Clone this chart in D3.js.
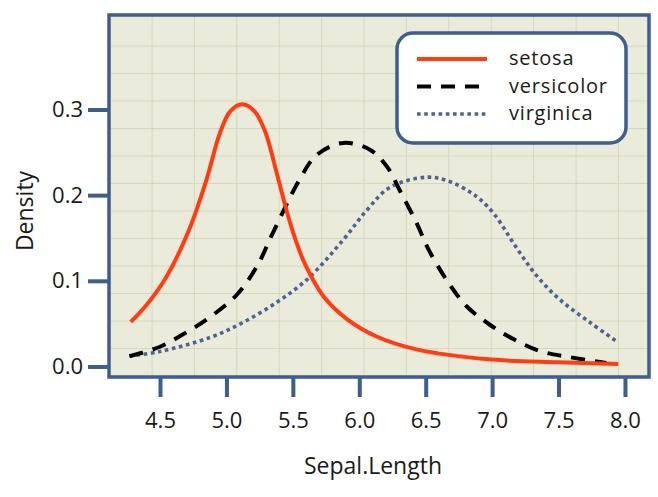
<!DOCTYPE html>
<html>
<head>
<meta charset="utf-8">
<script src="https://cdn.jsdelivr.net/npm/d3@7"></script>
<style>
    body { margin: 0; background: #fff; }
    text { font-family: "Open Sans", sans-serif; fill: #1a1a1a; }
</style>
</head>
<body>
<div id="chart"></div>
<script>
// Density of Sepal.Length per species
const species = ['setosa', 'versicolor', 'virginica'];

const setosaX = [4.28, 4.40, 4.55, 4.72, 4.85, 4.95, 5.03, 5.12, 5.21, 5.29, 5.38, 5.46, 5.52, 5.59, 5.73, 5.91, 6.13, 6.43, 7.0, 7.5, 7.95];
const setosaY = [0.052, 0.072, 0.105, 0.160, 0.218, 0.272, 0.298, 0.306, 0.298, 0.275, 0.225, 0.178, 0.148, 0.120, 0.082, 0.055, 0.035, 0.020, 0.008, 0.005, 0.003];

const versicolorX = [4.27, 4.5, 4.70, 4.88, 5.08, 5.23, 5.35, 5.55, 5.68, 5.88, 6.08, 6.21, 6.31, 6.43, 6.52, 6.67, 6.81, 6.98, 7.16, 7.36, 7.58, 7.86];
const versicolorY = [0.012, 0.023, 0.040, 0.058, 0.084, 0.117, 0.156, 0.218, 0.247, 0.261, 0.253, 0.233, 0.204, 0.168, 0.137, 0.098, 0.070, 0.049, 0.032, 0.018, 0.011, 0.004];

const virginicaX = [4.27, 4.5, 4.88, 5.12, 5.38, 5.61, 5.88, 6.06, 6.23, 6.51, 6.68, 6.83, 6.91, 7.02, 7.19, 7.34, 7.51, 7.74, 7.95];
const virginicaY = [0.012, 0.0175, 0.034, 0.051, 0.075, 0.102, 0.148, 0.183, 0.209, 0.221, 0.216, 0.204, 0.195, 0.177, 0.137, 0.105, 0.078, 0.051, 0.028];

const xTicks = [4.5, 5.0, 5.5, 6.0, 6.5, 7.0, 7.5, 8.0];
const yTicks = [0.0, 0.1, 0.2, 0.3];

const width = 658, height = 497;
const panel = { left: 109, top: 15, right: 649, bottom: 377 };
const axisColor = '#3d5e8e';

const svg = d3.select('#chart').append('svg')
    .attr('width', width)
    .attr('height', height);

// Scales
const xScale = d3.scaleLinear()
    .domain([4.116, 8.181])
    .range([panel.left, panel.right]);

const yScale = d3.scaleLinear()
    .domain([-0.0123, 0.4103])
    .range([panel.bottom, panel.top]);

// Panel background
svg.append('rect')
    .attr('x', panel.left)
    .attr('y', panel.top)
    .attr('width', panel.right - panel.left)
    .attr('height', panel.bottom - panel.top)
    .attr('fill', '#ebebdb');

// Graph-paper grid (decorative, not tied to the ticks)
const grid = svg.append('g').attr('stroke', '#d5d8bd').attr('stroke-width', 1);
d3.range(panel.left + 43, panel.right - 5, 42.4).forEach(gx => {
    grid.append('line')
        .attr('x1', gx).attr('x2', gx)
        .attr('y1', panel.top).attr('y2', panel.bottom);
});
d3.range(panel.top + 31, panel.bottom - 5, 27.5).forEach(gy => {
    grid.append('line')
        .attr('x1', panel.left).attr('x2', panel.right)
        .attr('y1', gy).attr('y2', gy);
});

// Curves
const line = d3.line()
    .x(d => xScale(d[0]))
    .y(d => yScale(d[1]))
    .curve(d3.curveCatmullRom.alpha(0.5));

const series = [
    { name: species[0], pts: d3.zip(setosaX, setosaY), color: '#ff3c12', width: 4, dash: null },
    { name: species[1], pts: d3.zip(versicolorX, versicolorY), color: '#000000', width: 4, dash: '14,10' },
    { name: species[2], pts: d3.zip(virginicaX, virginicaY), color: '#4a6690', width: 3.6, dash: '3.6,3.6' }
];

svg.append('g')
    .selectAll('path')
    .data(series.slice().reverse())
    .enter()
    .append('path')
    .attr('d', d => line(d.pts))
    .attr('fill', 'none')
    .attr('stroke', d => d.color)
    .attr('stroke-width', d => d.width)
    .attr('stroke-dasharray', d => d.dash);

// Border
svg.append('rect')
    .attr('x', panel.left)
    .attr('y', panel.top)
    .attr('width', panel.right - panel.left)
    .attr('height', panel.bottom - panel.top)
    .attr('fill', 'none')
    .attr('stroke', axisColor)
    .attr('stroke-width', 3.5);

// Axes
const xAxis = svg.append('g')
    .attr('transform', `translate(0,${panel.bottom})`)
    .call(d3.axisBottom(xScale)
        .tickValues(xTicks)
        .tickFormat(d3.format('.1f'))
        .tickSize(20)
        .tickPadding(15));

const yAxis = svg.append('g')
    .attr('transform', `translate(${panel.left},0)`)
    .call(d3.axisLeft(yScale)
        .tickValues(yTicks)
        .tickFormat(d3.format('.1f'))
        .tickSize(21)
        .tickPadding(5));

[xAxis, yAxis].forEach(ax => {
    ax.select('.domain').remove();
    ax.selectAll('.tick line')
        .attr('stroke', axisColor)
        .attr('stroke-width', 4);
    ax.selectAll('.tick text')
        .attr('fill', '#1a1a1a')
        .style('font-size', '22px');
});

// Axis titles
svg.append('text')
    .attr('x', 373)
    .attr('y', 474)
    .attr('text-anchor', 'middle')
    .style('font-size', '23px')
    .text('Sepal.Length');

svg.append('text')
    .attr('transform', 'translate(33,211) rotate(-90)')
    .attr('text-anchor', 'middle')
    .style('font-size', '23px')
    .text('Density');

// Legend
const legend = svg.append('g').attr('transform', 'translate(397,33)');

legend.append('rect')
    .attr('width', 229)
    .attr('height', 110)
    .attr('rx', 16)
    .attr('fill', '#fff')
    .attr('stroke', axisColor)
    .attr('stroke-width', 3.5);

const rows = legend.selectAll('.row')
    .data(series)
    .enter()
    .append('g')
    .attr('class', 'row')
    .attr('transform', (d, i) => `translate(0,${26 + i * 27.5})`);

rows.append('line')
    .attr('x1', 20)
    .attr('x2', 90)
    .attr('stroke', d => d.color)
    .attr('stroke-width', d => d.width)
    .attr('stroke-dasharray', d => d.dash);

rows.append('text')
    .attr('x', 112)
    .attr('y', 6)
    .style('font-size', '20px')
    .style('letter-spacing', '0.8px')
    .text(d => d.name);
</script>
</body>
</html>
